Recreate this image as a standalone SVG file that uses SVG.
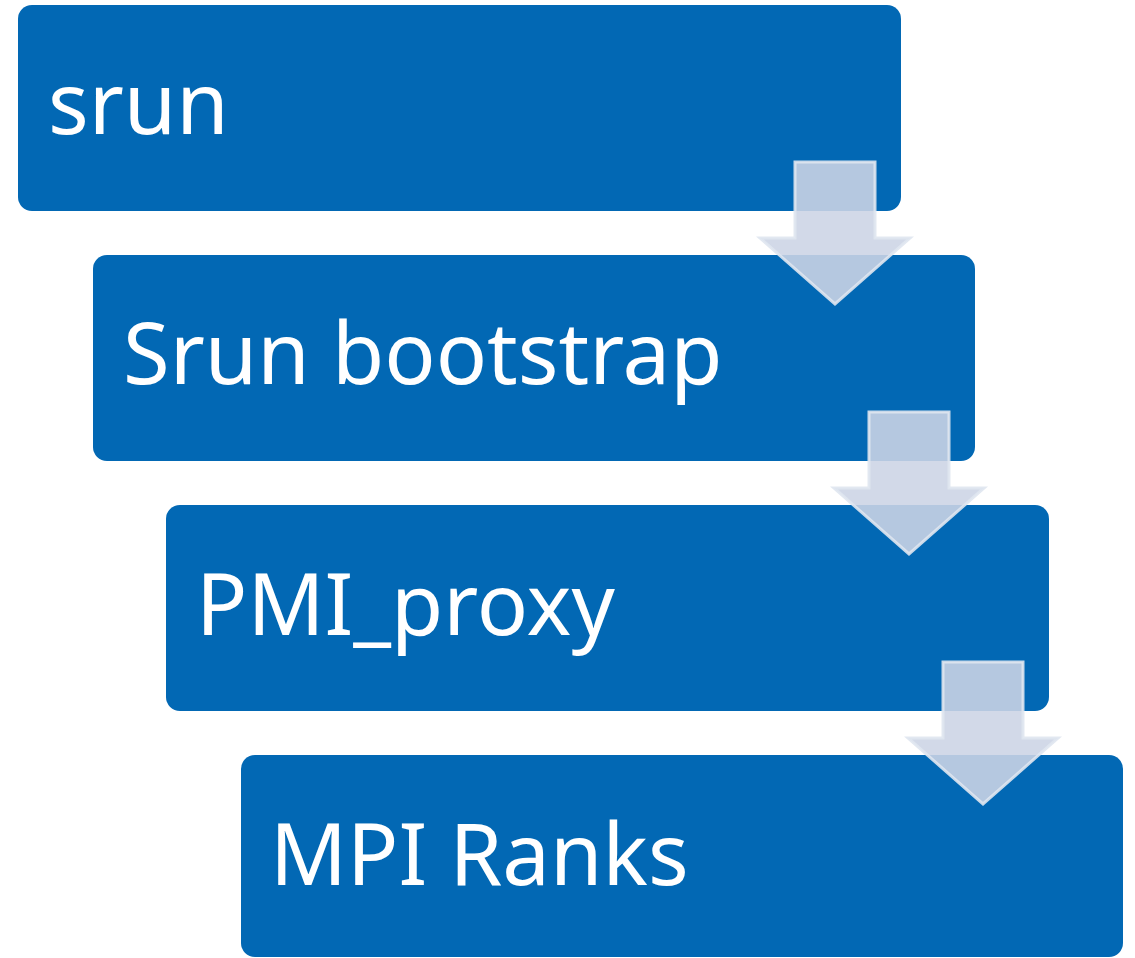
<svg xmlns="http://www.w3.org/2000/svg" width="1135" height="958" viewBox="0 0 1135 958">
<style>
.box{fill:#0268b4;}
.lbl{fill:#ffffff;font-family:"Noto Sans","Open Sans",sans-serif;font-size:85px;}
.arr{fill:#ccd4e5;fill-opacity:0.885;stroke:#dfe5ef;stroke-opacity:0.9;stroke-width:3;stroke-linejoin:miter;}
</style>
<rect width="1135" height="958" fill="#ffffff"/>
<g id="node-srun"><rect class="box" x="18" y="5" width="883" height="206" rx="14"/><text class="lbl" x="48" y="134">srun</text></g>
<g id="node-bootstrap"><rect class="box" x="93" y="255" width="882" height="206" rx="14"/><text class="lbl" x="123" y="384">Srun bootstrap</text></g>
<g id="node-pmi"><rect class="box" x="166" y="505" width="883" height="206" rx="14"/><text class="lbl" x="196" y="635">PMI_proxy</text></g>
<g id="node-mpi"><rect class="box" x="241" y="755" width="882" height="202" rx="14"/><text class="lbl" x="270" y="885">MPI Ranks</text></g>
<g id="connectors">
<path class="arr" d="M795,162 H875 V238 H910 L835,304 L760,238 H795 Z"/>
<path class="arr" d="M869,412 H949 V488 H984 L909,554 L834,488 H869 Z"/>
<path class="arr" d="M943,662 H1023 V738 H1058 L983,804 L908,738 H943 Z"/>
</g>
</svg>
